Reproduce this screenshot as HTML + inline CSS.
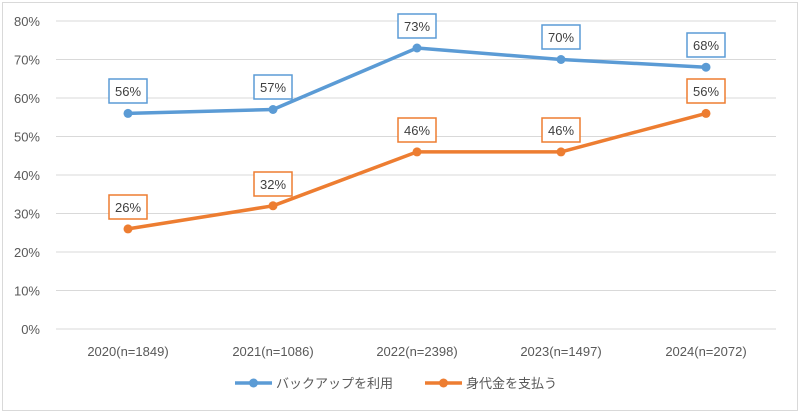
<!DOCTYPE html><html><head><meta charset="utf-8"><style>body{margin:0;background:#fff}</style></head><body>
<svg width="800" height="413" xmlns="http://www.w3.org/2000/svg" font-family="Liberation Sans, Noto Sans CJK JP, sans-serif">
<rect x="2.5" y="2.5" width="795" height="408" fill="#fff" stroke="#d9d9d9"/>
<g stroke="#d9d9d9" stroke-width="1">
<line x1="56" x2="776" y1="21" y2="21"/><line x1="56" x2="776" y1="59.5" y2="59.5"/><line x1="56" x2="776" y1="98" y2="98"/><line x1="56" x2="776" y1="136.5" y2="136.5"/><line x1="56" x2="776" y1="175" y2="175"/><line x1="56" x2="776" y1="213.5" y2="213.5"/><line x1="56" x2="776" y1="252" y2="252"/><line x1="56" x2="776" y1="290.5" y2="290.5"/><line x1="56" x2="776" y1="329" y2="329"/>
</g>
<g font-size="13" fill="#595959" text-anchor="end">
<text x="40" y="26">80%</text><text x="40" y="64.5">70%</text><text x="40" y="103">60%</text><text x="40" y="141.5">50%</text><text x="40" y="180">40%</text><text x="40" y="218.5">30%</text><text x="40" y="257">20%</text><text x="40" y="295.5">10%</text><text x="40" y="334">0%</text>
</g>
<g font-size="13" fill="#595959" text-anchor="middle">
<text x="128" y="356">2020(n=1849)</text><text x="273" y="356">2021(n=1086)</text><text x="417" y="356">2022(n=2398)</text><text x="561" y="356">2023(n=1497)</text><text x="706" y="356">2024(n=2072)</text>
</g>
<polyline fill="none" stroke="#5b9bd5" stroke-width="3.5" stroke-linejoin="round" points="128,113.4 273,109.5 417,48 561,59.5 706,67.2"/>
<polyline fill="none" stroke="#ed7d31" stroke-width="3.5" stroke-linejoin="round" points="128,228.9 273,205.8 417,151.9 561,151.9 706,113.4"/>
<g fill="#5b9bd5"><circle cx="128" cy="113.4" r="4.5"/><circle cx="273" cy="109.5" r="4.5"/><circle cx="417" cy="48" r="4.5"/><circle cx="561" cy="59.5" r="4.5"/><circle cx="706" cy="67.2" r="4.5"/></g>
<g fill="#ed7d31"><circle cx="128" cy="228.9" r="4.5"/><circle cx="273" cy="205.8" r="4.5"/><circle cx="417" cy="151.9" r="4.5"/><circle cx="561" cy="151.9" r="4.5"/><circle cx="706" cy="113.4" r="4.5"/></g>
<g font-size="13" fill="#404040" text-anchor="middle">
<g fill="#fff" stroke="#5b9bd5" stroke-width="1.5">
<rect x="109" y="79" width="38" height="24"/><rect x="254" y="75" width="38" height="24"/><rect x="398" y="14" width="38" height="24"/><rect x="542" y="25" width="38" height="24"/><rect x="687" y="33" width="38" height="24"/>
</g>
<g fill="#fff" stroke="#ed7d31" stroke-width="1.5">
<rect x="109" y="195" width="38" height="24"/><rect x="254" y="172" width="38" height="24"/><rect x="398" y="118" width="38" height="24"/><rect x="542" y="118" width="38" height="24"/><rect x="687" y="79" width="38" height="24"/>
</g>
<text x="128" y="96">56%</text><text x="273" y="92">57%</text><text x="417" y="31">73%</text><text x="561" y="42">70%</text><text x="706" y="50">68%</text>
<text x="128" y="212">26%</text><text x="273" y="189">32%</text><text x="417" y="135">46%</text><text x="561" y="135">46%</text><text x="706" y="96">56%</text>
</g>
<line x1="235" x2="272" y1="383" y2="383" stroke="#5b9bd5" stroke-width="3.5"/><circle cx="253.5" cy="383" r="4.5" fill="#5b9bd5"/>
<text x="276" y="388" font-size="13" fill="#595959">バックアップを利用</text>
<line x1="425" x2="462" y1="383" y2="383" stroke="#ed7d31" stroke-width="3.5"/><circle cx="443.5" cy="383" r="4.5" fill="#ed7d31"/>
<text x="466" y="388" font-size="13" fill="#595959">身代金を支払う</text>
</svg>
</body></html>
